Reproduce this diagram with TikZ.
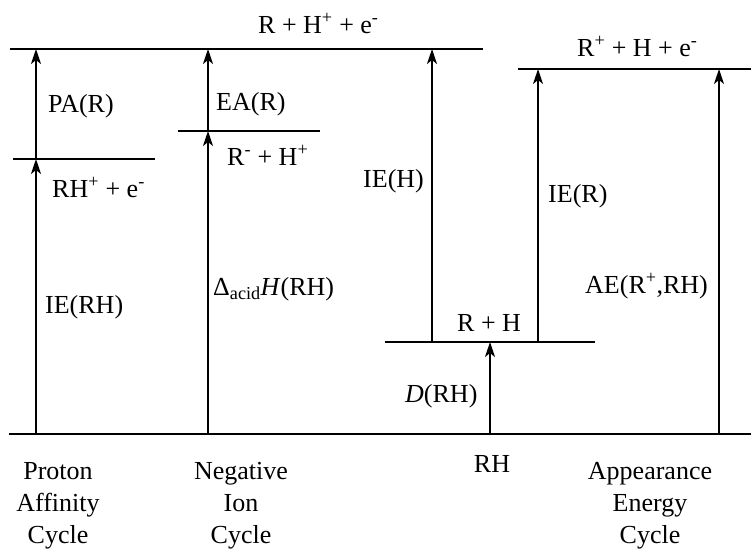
\documentclass[tikz,border=0pt]{standalone}
\usepackage{fontspec}
\setmainfont{Liberation Serif}
\usetikzlibrary{arrows.meta}
\begin{document}
\begin{tikzpicture}[x=1pt,y=-1pt,
  level/.style={line width=2pt},
  uparrow/.style={line width=1.8pt,-{Stealth[length=15pt,width=10pt,inset=4pt]}},
  lbl/.style={anchor=base west,inner sep=0pt,font=\fontsize{26}{32}\selectfont},
  cyc/.style={anchor=base,inner sep=0pt,align=center,font=\fontsize{26}{32}\selectfont}]
\useasboundingbox (0,0) rectangle (751,550);
% levels
\coordinate (topL) at (10,49);   \coordinate (topR) at (483,49);
\coordinate (apL) at (518,69);   \coordinate (apR) at (751,69);
\coordinate (rhpL) at (13,159);  \coordinate (rhpR) at (155,159);
\coordinate (rmL) at (178,131);  \coordinate (rmR) at (320,131);
\coordinate (rhL) at (385,342);  \coordinate (rhR) at (595,342);
\coordinate (botL) at (9,434);   \coordinate (botR) at (751,434);
\draw[level] (topL) -- (topR);
\draw[level] (apL) -- (apR);
\draw[level] (rhpL) -- (rhpR);
\draw[level] (rmL) -- (rmR);
\draw[level] (rhL) -- (rhR);
\draw[level] (botL) -- (botR);
% arrow points
\coordinate (a1b) at (36,434); \coordinate (a1m) at (36,159); \coordinate (a1t) at (36,49);
\coordinate (a2b) at (208,434); \coordinate (a2m) at (208,131); \coordinate (a2t) at (208,49);
\coordinate (a3b) at (432,342); \coordinate (a3t) at (432,49);
\coordinate (a4b) at (490,434); \coordinate (a4t) at (490,342);
\coordinate (a5b) at (538,342); \coordinate (a5t) at (538,69);
\coordinate (a6b) at (719,434); \coordinate (a6t) at (719,69);
\draw[uparrow] (a1b) -- (a1m);
\draw[uparrow] (a1m) -- (a1t);
\draw[uparrow] (a2b) -- (a2m);
\draw[uparrow] (a2m) -- (a2t);
\draw[uparrow] (a3b) -- (a3t);
\draw[uparrow] (a4b) -- (a4t);
\draw[uparrow] (a5b) -- (a5t);
\draw[uparrow] (a6b) -- (a6t);
% level labels
\node[lbl] (ltop) at (258,33) {R + H\textsuperscript{+} + e\textsuperscript{-}};
\node[lbl] (lap) at (577,56) {R\textsuperscript{+} + H + e\textsuperscript{-}};
\node[lbl] (lrhp) at (52,197) {RH\textsuperscript{+} + e\textsuperscript{-}};
\node[lbl] (lrm) at (227,165) {R\textsuperscript{-} + H\textsuperscript{+}};
\node[lbl] (lrh) at (457,331) {R + H};
\node[cyc] (lrhb) at (492,472) {RH};
% arrow labels
\node[lbl] (lpa) at (48,112) {PA(R)};
\node[lbl] (lea) at (216,110) {EA(R)};
\node[lbl] (lierh) at (45,313) {IE(RH)};
\node[lbl] (ldh) at (213,295) {Δ\textsubscript{acid}\textit{H}(RH)};
\node[lbl] (lieh) at (363,187) {IE(H)};
\node[lbl] (lier) at (548,202) {IE(R)};
\node[lbl] (ld) at (405,402) {\textit{D}(RH)};
\node[lbl] (lae) at (585,293) {AE(R\textsuperscript{+},RH)};
% cycle names (base anchor = last line)
\node[cyc] (c1) at (58,543) {Proton\\Affinity\\Cycle};
\node[cyc] (c2) at (241,543) {Negative\\Ion\\Cycle};
\node[cyc] (c3) at (650,543) {Appearance\\Energy\\Cycle};
\end{tikzpicture}
\end{document}
